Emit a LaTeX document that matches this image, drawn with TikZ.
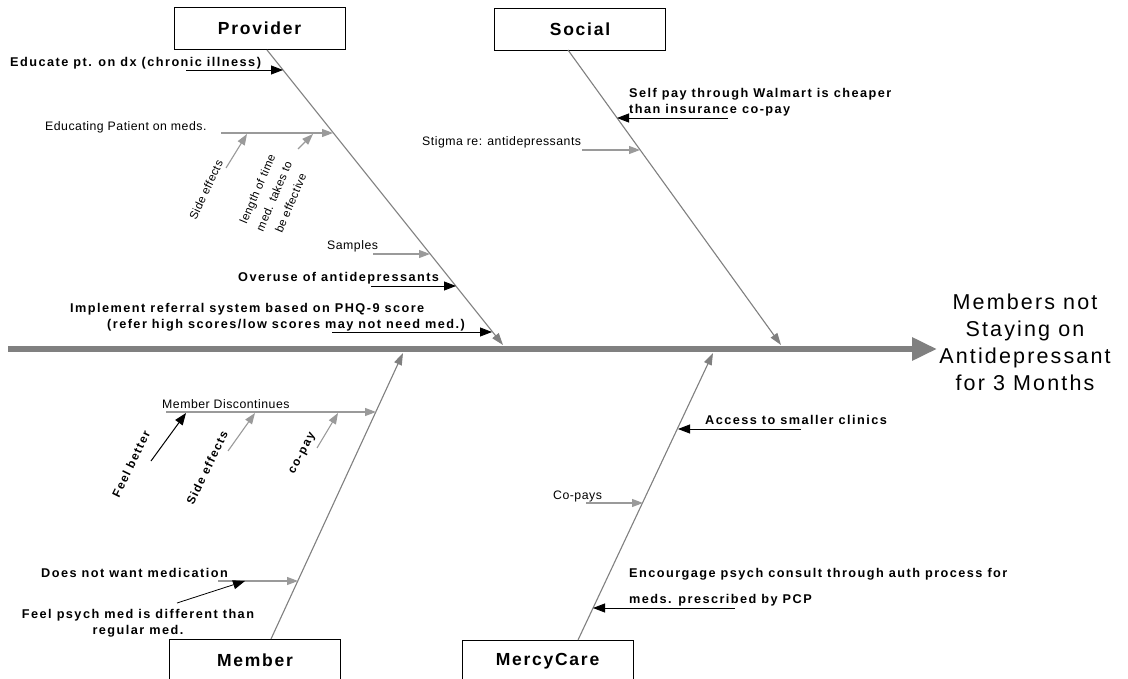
\documentclass[tikz,border=0pt]{standalone}
\usepackage{fontspec}
\setmainfont{Liberation Sans}
\newfontfamily\rfont[LetterSpace=4]{Liberation Sans}
\newfontfamily\bfont[LetterSpace=11.5]{Liberation Sans}
\newfontfamily\cfont[LetterSpace=10]{Liberation Sans}
\newfontfamily\tfont[LetterSpace=10]{Liberation Sans}
\usetikzlibrary{arrows.meta}
\definecolor{bonegray}{HTML}{808080}
\definecolor{arrgray}{HTML}{9A9A9A}
\tikzset{
  lbl/.style={inner sep=0pt, anchor=west, font=\rfont\fontsize{12.3}{14}\selectfont},
  blbl/.style={inner sep=0pt, anchor=west, font=\bfont\bfseries\fontsize{12.7}{16}\selectfont},
  rlbl/.style={inner sep=0pt, align=center, font=\rfont\fontsize{11.5}{18}\selectfont},
  rblbl/.style={inner sep=0pt, align=center, font=\bfont\bfseries\fontsize{11.8}{14}\selectfont},
  catbox/.style={draw, line width=0.9pt, minimum width=171pt, minimum height=42pt, inner sep=0pt,
    font=\cfont\bfseries\fontsize{17.5}{19}\selectfont},
  bone/.style={draw=bonegray, line width=1.1pt, -{Triangle[length=12pt,width=8pt]}},
  garrow/.style={draw=arrgray, line width=1.1pt, -{Triangle[length=11pt,width=8pt]}},
  karrow/.style={draw=black, line width=0.8pt, -{Triangle[length=12pt,width=9pt]}},
  spine/.style={draw=bonegray, line width=6pt, -{Triangle[length=25pt,width=22pt]}}
}
\begin{document}
\begin{tikzpicture}[x=1pt,y=-1pt]
\useasboundingbox[fill=white] (0,0) rectangle (1128,679);

% spine and outcome
\coordinate (spL) at (8,349);
\coordinate (spR) at (937,349);
\draw[spine] (spL) -- (spR);
\node[align=center, inner sep=0pt, font=\tfont\fontsize{21.5}{27}\selectfont] (outcome) at (1025,342)
  {Members not\\Staying on\\Antidepressant\\for 3 Months};

% category boxes
\node[catbox] (provider) at (259.5,28) {Provider};
\node[catbox] (social) at (580,29) {Social};
\node[catbox] (member) at (255,660) {Member};
\node[catbox] (mercy) at (547.5,661) {MercyCare};

% bones
\coordinate (pvTop) at (267,50);
\coordinate (pvTip) at (503,345);
\coordinate (soTop) at (568,50);
\coordinate (soTip) at (781,345);
\coordinate (meBot) at (271,639);
\coordinate (meTip) at (403,353);
\coordinate (mcBot) at (578,640);
\coordinate (mcTip) at (713,353);
\draw[bone] (pvTop) -- (pvTip);
\draw[bone] (soTop) -- (soTip);
\draw[bone] (meBot) -- (meTip);
\draw[bone] (mcBot) -- (mcTip);

% ---- Provider causes
\node[blbl] (p1) at (10,63) {Educate pt. on dx (chronic illness)};
\coordinate (p1s) at (186,70); \coordinate (p1e) at (283,70);
\draw[karrow] (p1s) -- (p1e);

\node[lbl] (p2) at (45,127) {Educating Patient on meds.};
\coordinate (p2s) at (221,133); \coordinate (p2e) at (333,133);
\draw[garrow] (p2s) -- (p2e);

\node[rlbl, rotate=65] (p2a) at (206,190) {Side effects};
\coordinate (p2as) at (226,168); \coordinate (p2ae) at (247,134);
\draw[garrow] (p2as) -- (p2ae);

\node[rlbl, rotate=67] (p2b) at (274,196) {length of time\\med. takes to\\be effective};
\coordinate (p2bs) at (298,149); \coordinate (p2be) at (313,134);
\draw[garrow] (p2bs) -- (p2be);

\node[lbl] (p3) at (327,246) {Samples};
\coordinate (p3s) at (373,254); \coordinate (p3e) at (430,254);
\draw[garrow] (p3s) -- (p3e);

\node[blbl] (p4) at (238,278) {Overuse of antidepressants};
\coordinate (p4s) at (371,286); \coordinate (p4e) at (456,286);
\draw[karrow] (p4s) -- (p4e);

\node[blbl, align=left] (p5) at (70,317) {Implement referral system based on PHQ-9 score\\\hspace*{37pt}(refer high scores/low scores may not need med.)};
\coordinate (p5s) at (332,332); \coordinate (p5e) at (492,332);
\draw[karrow] (p5s) -- (p5e);

% ---- Social causes
\node[blbl, align=left] (s1) at (629,102) {Self pay through Walmart is cheaper\\than insurance co-pay};
\coordinate (s1s) at (728,118); \coordinate (s1e) at (617,118);
\draw[karrow] (s1s) -- (s1e);

\node[lbl] (s2) at (422,142) {Stigma re: antidepressants};
\coordinate (s2s) at (582,150); \coordinate (s2e) at (640,150);
\draw[garrow] (s2s) -- (s2e);

% ---- Member causes
\node[lbl] (m1) at (162,404) {Member Discontinues};
\coordinate (m1s) at (166,412); \coordinate (m1e) at (376,412);
\draw[garrow] (m1s) -- (m1e);

\node[rblbl, rotate=64] (m1a) at (131,464) {Feel better};
\coordinate (m1as) at (151,461); \coordinate (m1ae) at (186,413);
\draw[karrow, line width=1pt] (m1as) -- (m1ae);

\node[rblbl, rotate=64] (m1b) at (207,468) {Side effects};
\coordinate (m1bs) at (228,451); \coordinate (m1be) at (255,413);
\draw[garrow] (m1bs) -- (m1be);

\node[rblbl, rotate=62] (m1c) at (303,454) {co-pay};
\coordinate (m1cs) at (317,448); \coordinate (m1ce) at (338,413);
\draw[garrow] (m1cs) -- (m1ce);

\node[blbl] (m2) at (41,573) {Does not want medication};
\coordinate (m2s) at (218,581); \coordinate (m2e) at (298,581);
\draw[garrow] (m2s) -- (m2e);

\node[blbl, anchor=center, align=center] (m3) at (138,623) {Feel psych med is different than\\regular med.};
\coordinate (m3s) at (177,603); \coordinate (m3e) at (245,581);
\draw[karrow] (m3s) -- (m3e);

% ---- MercyCare causes
\node[blbl] (c1) at (705,420) {Access to smaller clinics};
\coordinate (c1s) at (801,429); \coordinate (c1e) at (678,429);
\draw[karrow] (c1s) -- (c1e);

\node[lbl] (c2) at (553,496) {Co-pays};
\coordinate (c2s) at (586,503); \coordinate (c2e) at (643,503);
\draw[garrow] (c2s) -- (c2e);

\node[blbl, align=left, font=\bfont\bfseries\fontsize{12.7}{26}\selectfont] (c3) at (629,587) {Encourgage psych consult through auth process for\\meds. prescribed by PCP};
\coordinate (c3s) at (735,608); \coordinate (c3e) at (593,608);
\draw[karrow] (c3s) -- (c3e);
\end{tikzpicture}
\end{document}
